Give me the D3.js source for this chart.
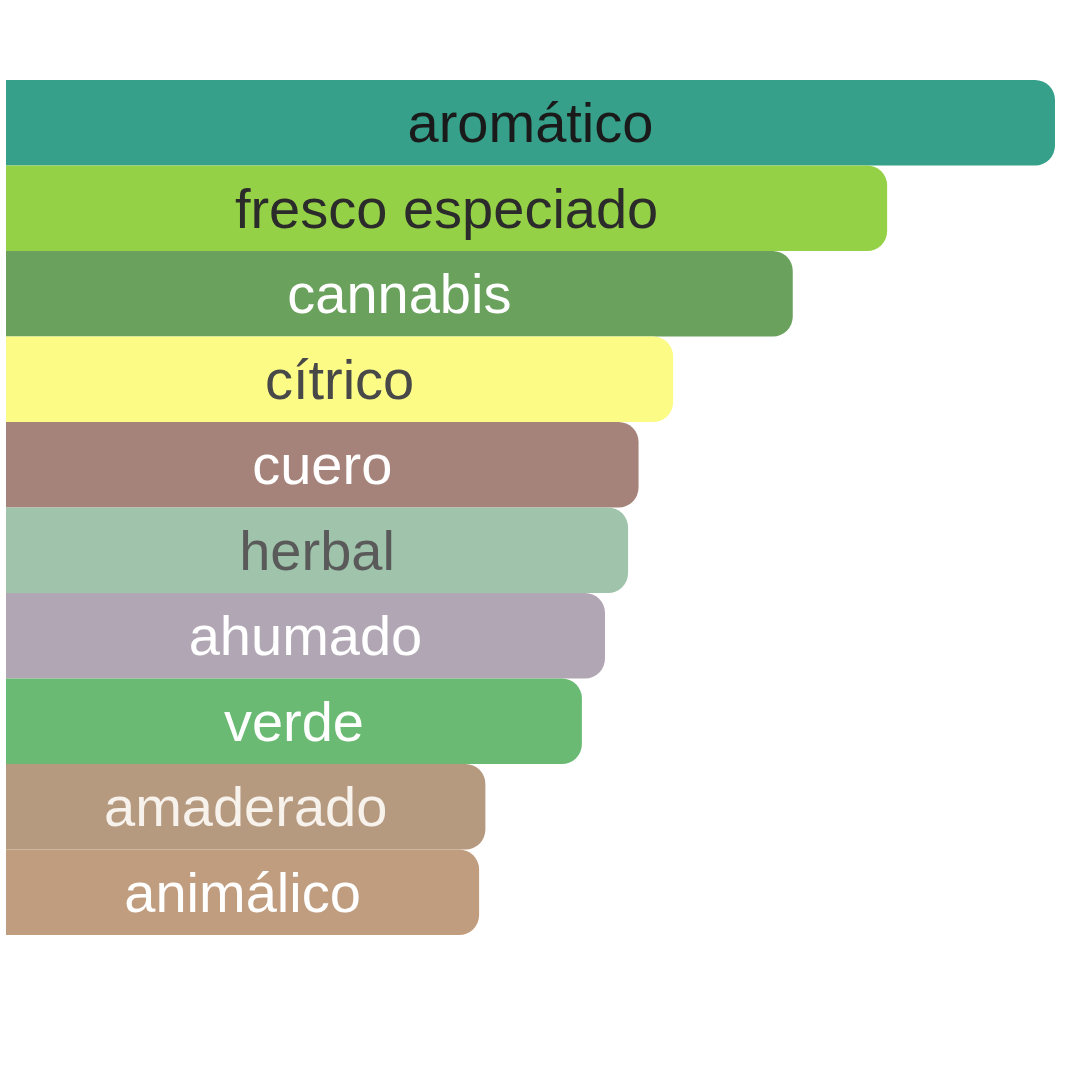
<!DOCTYPE html>
<html>
<head>
<meta charset="utf-8">
<script src="https://cdn.jsdelivr.net/npm/d3@7"></script>
<style>
  html, body { margin: 0; padding: 0; background: #ffffff; }
</style>
</head>
<body>
<script>
const categories = ["aromático", "fresco especiado", "cannabis", "cítrico", "cuero", "herbal", "ahumado", "verde", "amaderado", "animálico"];
const values = [100, 84, 75, 63.6, 60.3, 59.3, 57.1, 54.9, 45.7, 45.1];
const colors = ["#36a08a", "#95d146", "#6aa15c", "#fbfb86", "#a6837a", "#a0c4ab", "#b1a6b3", "#6aba74", "#b59a80", "#c19d7f"];
const textColors = ["#1a1a1a", "#2b2b2b", "#ffffff", "#484848", "#ffffff", "#5a5a5a", "#ffffff", "#ffffff", "#f8f2ec", "#ffffff"];

const width = 1080;
const height = 1080;
const margin = {top: 80, right: 25, bottom: 145, left: 6};
const radius = 20;

const data = categories.map((c, i) => ({name: c, value: values[i], color: colors[i], text: textColors[i]}));

const x = d3.scaleLinear().domain([0, d3.max(values)]).range([margin.left, width - margin.right]);
const y = d3.scaleBand().domain(categories).range([margin.top, height - margin.bottom]).padding(0);

const svg = d3.select("body").append("svg")
  .attr("width", width)
  .attr("height", height)
  .style("font-family", "'Liberation Sans', Arial, sans-serif");

// left side square, right side rounded
function barPath(d) {
  const x0 = x(0), x1 = x(d.value), y0 = y(d.name), h = y.bandwidth();
  const r = Math.min(radius, h / 2, x1 - x0);
  return `M${x0},${y0}H${x1 - r}A${r},${r} 0 0 1 ${x1},${y0 + r}V${y0 + h - r}A${r},${r} 0 0 1 ${x1 - r},${y0 + h}H${x0}Z`;
}

const g = svg.append("g");

g.selectAll("path").data(data).join("path")
  .attr("d", barPath)
  .attr("fill", d => d.color);

g.selectAll("text").data(data).join("text")
  .attr("x", d => (x(0) + x(d.value)) / 2)
  .attr("y", d => y(d.name) + y.bandwidth() / 2)
  .attr("dy", "0.35em")
  .attr("text-anchor", "middle")
  .attr("font-size", "56px")
  .attr("fill", d => d.text)
  .text(d => d.name);
</script>
</body>
</html>
